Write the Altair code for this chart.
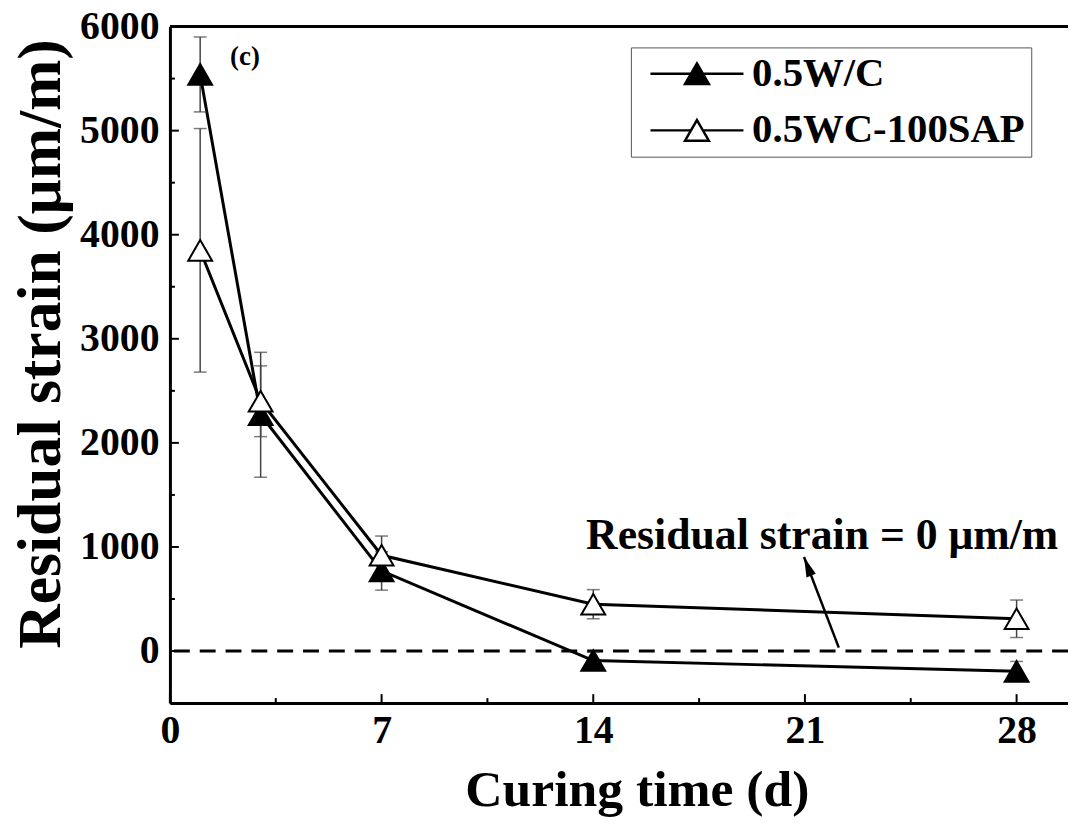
import altair as alt
import pandas as pd

# ---- data ----
days = [1, 3, 7, 14, 28]
wc_vals = [5540, 2270, 770, -91, -195]
wc_err = [360, 600, 185, 80, 95]
sap_vals = [3850, 2400, 920, 450, 310]
sap_err = [1170, 340, 185, 140, 180]
series_names = ["0.5W/C", "0.5WC-100SAP"]

x_major = [0, 7, 14, 21, 28]
x_minor = [3.5, 10.5, 17.5, 24.5]
y_major = [0, 1000, 2000, 3000, 4000, 5000, 6000]
y_minor = [-500, 500, 1500, 2500, 3500, 4500, 5500]

note_text = ["Residual strain = 0 \u03bcm/m"]
note_x = [21.57]
note_y = [985]
arrow_x = [22.12]
arrow_y = [33]
arrow_x2 = [20.97]
arrow_y2 = [903]
panel_label = ["(c)"]
panel_x = [2.48]
panel_y = [5630]

FONT = "Liberation Serif"
W, H = 904, 681
XDOM = [0, 29.7]
YDOM = [-500, 6000]

rows = []
for name, vals, errs in [(series_names[0], wc_vals, wc_err), (series_names[1], sap_vals, sap_err)]:
    for d, v, e in zip(days, vals, errs):
        rows.append({"day": d, "value": v, "lo": v - e, "hi": v + e, "series": name})
df = pd.DataFrame(rows)

xs = alt.Scale(domain=XDOM, nice=False, zero=False)
ys = alt.Scale(domain=YDOM, nice=False, zero=False)

XAXIS = alt.Axis(
    values=x_major, ticks=False, grid=False, domainWidth=3, domainColor="black",
    labelFont=FONT, labelFontSize=40, labelFontWeight="bold", labelColor="black",
    labelPadding=8, labelFlush=False, format="d",
    title="Curing time (d)", titleFont=FONT, titleFontSize=52, titleFontWeight="bold",
    titleColor="black", titleX=470, titleY=103, titleBaseline="alphabetic", titleAlign="center")
YAXIS = alt.Axis(
    values=y_major, ticks=False, grid=False, domainWidth=3, domainColor="black",
    labelFont=FONT, labelFontSize=40, labelFontWeight="bold", labelColor="black",
    labelPadding=11, labelFlush=False, format="d",
    title="Residual strain (\u03bcm/m)", titleFont=FONT, titleFontSize=62, titleFontWeight="bold",
    titleColor="black", titleX=-111, titleY=319, titleBaseline="alphabetic", titleAlign="center",
    titleAngle=270)


def xq(field):
    return alt.X(field, scale=xs, axis=XAXIS)


def yq(field):
    return alt.Y(field, scale=ys, axis=YAXIS)


base = alt.Chart(df)

zero_line = alt.Chart(pd.DataFrame({"z": [0]})).mark_rule(
    color="black", strokeWidth=3, strokeDash=[16, 10]).encode(y=yq("z:Q"))

err_rule = base.mark_rule(color="#444", strokeWidth=1.5).encode(
    x=xq("day:Q"), y=yq("lo:Q"), y2="hi:Q")
cap_hi = base.mark_tick(orient="horizontal", size=13, thickness=1.5, color="#444").encode(
    x=xq("day:Q"), y=yq("hi:Q"))
cap_lo = base.mark_tick(orient="horizontal", size=13, thickness=1.5, color="#444").encode(
    x=xq("day:Q"), y=yq("lo:Q"))

lines = base.mark_line(color="black", strokeWidth=3).encode(
    x=xq("day:Q"), y=yq("value:Q"), detail="series:N")

legend_path = "M-3.9,0L-0.5,0M0.5,0L3.9,0M0,-0.866L1,0.866L-1,0.866Z"
points = base.mark_point(shape="triangle-up", size=576, filled=True, stroke="black",
                         strokeWidth=2, opacity=1).encode(
    x=xq("day:Q"), y=yq("value:Q"),
    fill=alt.Fill("series:N", scale=alt.Scale(domain=series_names, range=["black", "white"]),
                  legend=alt.Legend(
                      title=None, orient="none", legendX=464, legendY=21,
                      symbolType=legend_path, symbolSize=576, symbolStrokeColor="black",
                      symbolStrokeWidth=2.5, symbolOffset=40, labelOffset=35,
                      labelFont=FONT, labelFontSize=41, labelFontWeight="bold", labelColor="black",
                      rowPadding=15, padding=6, strokeColor="#555", labelLimit=400)))

# inward tick marks
tx_major = alt.Chart(pd.DataFrame({"t": x_major})).mark_rule(color="black", strokeWidth=2).encode(
    x=xq("t:Q"), y=alt.value(H), y2=alt.value(H - 9))
tx_minor = alt.Chart(pd.DataFrame({"t": x_minor})).mark_rule(color="black", strokeWidth=2).encode(
    x=xq("t:Q"), y=alt.value(H), y2=alt.value(H - 5))
ty_major = alt.Chart(pd.DataFrame({"t": y_major})).mark_rule(color="black", strokeWidth=2).encode(
    y=yq("t:Q"), x=alt.value(0), x2=alt.value(9))
ty_minor = alt.Chart(pd.DataFrame({"t": y_minor})).mark_rule(color="black", strokeWidth=2).encode(
    y=yq("t:Q"), x=alt.value(0), x2=alt.value(5))
top_border = alt.Chart(pd.DataFrame({"t": [0]})).mark_rule(color="black", strokeWidth=3).encode(
    y=alt.value(0), x=alt.value(0), x2=alt.value(W))

note = alt.Chart(pd.DataFrame({"x": note_x, "y": note_y, "t": note_text})).mark_text(
    font=FONT, fontSize=44, fontWeight="bold", color="black", baseline="alphabetic", align="center").encode(
    x=xq("x:Q"), y=yq("y:Q"), text="t:N")
arrow = alt.Chart(pd.DataFrame({"x": arrow_x, "y": arrow_y, "x2": arrow_x2, "y2": arrow_y2})).mark_rule(
    color="black", strokeWidth=2.5).encode(
    x=xq("x:Q"), y=yq("y:Q"), x2="x2:Q", y2="y2:Q")
arrow_head = alt.Chart(pd.DataFrame({"x": arrow_x2, "y": arrow_y2})).mark_point(
    shape="M0,0L0.5,2L-0.5,2Z", size=400, filled=True, color="black", opacity=1, angle=339).encode(
    x=xq("x:Q"), y=yq("y:Q"))
panel = alt.Chart(pd.DataFrame({"x": panel_x, "y": panel_y, "t": panel_label})).mark_text(
    font=FONT, fontSize=27, fontWeight="bold", color="black", baseline="alphabetic", align="center").encode(
    x=xq("x:Q"), y=yq("y:Q"), text="t:N")

chart = alt.layer(
    lines, zero_line, err_rule, cap_hi, cap_lo, points,
    tx_major, tx_minor, ty_major, ty_minor, top_border,
    note, arrow, arrow_head, panel
).properties(
    width=W, height=H,
    autosize=alt.AutoSizeParams(type="none"),
    padding={"left": 163, "top": 16, "right": 0, "bottom": 114},
).configure_view(stroke=None).configure(background="white")

chart.save("out.html", embed_options={"renderer": "svg", "actions": False})
